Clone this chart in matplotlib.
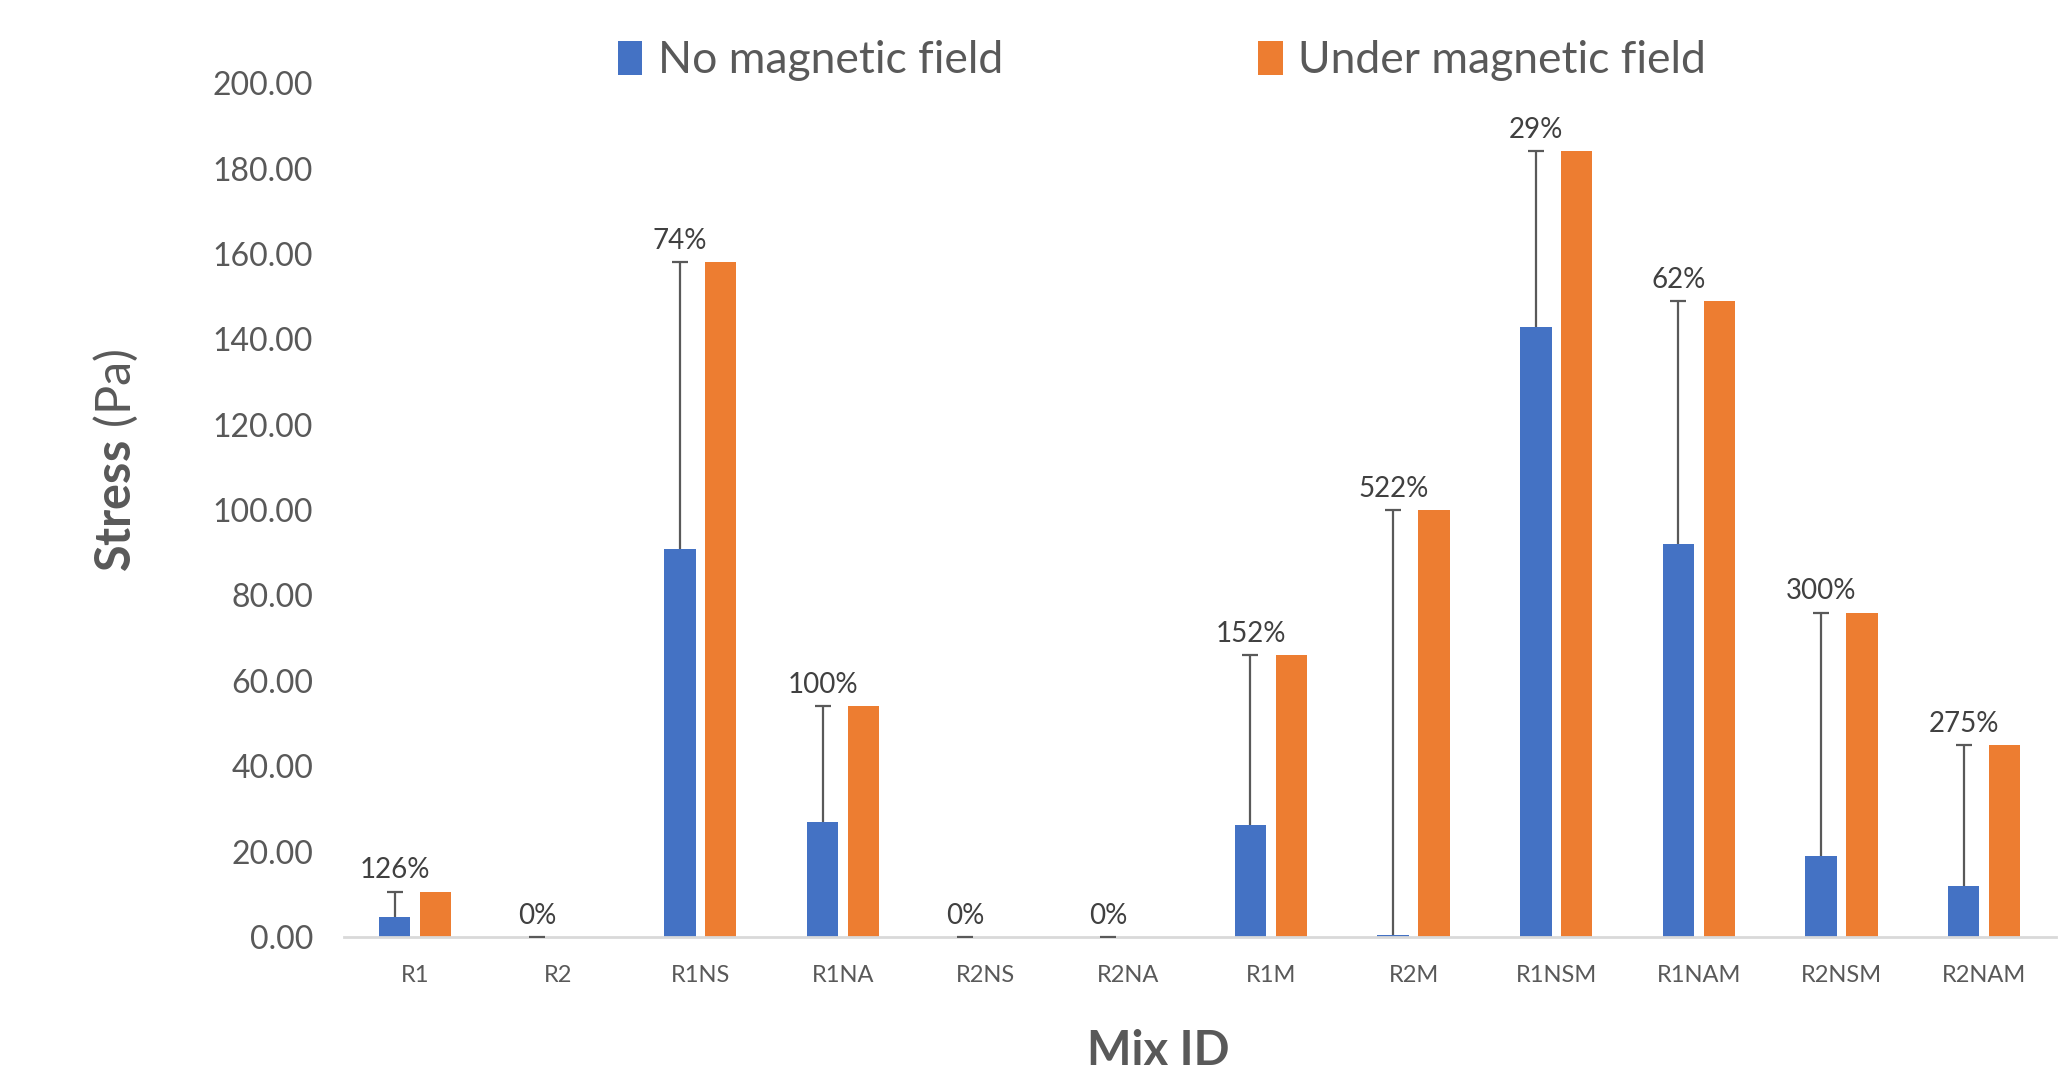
import numpy as np
import matplotlib.pyplot as plt

plt.rcParams['font.family'] = ['Lato', 'DejaVu Sans']
plt.rcParams['mathtext.fontset'] = 'custom'
plt.rcParams['mathtext.bf'] = 'Lato:bold'
plt.rcParams['mathtext.rm'] = 'Lato'

# Data
mix_ids = ['R1', 'R2', 'R1NS', 'R1NA', 'R2NS', 'R2NA',
           'R1M', 'R2M', 'R1NSM', 'R1NAM', 'R2NSM', 'R2NAM']
no_field = [4.7, 0.0, 91.0, 27.0, 0.0, 0.0, 26.2, 0.5, 143.0, 92.0, 19.0, 12.0]
under_field = [10.6, 0.0, 158.0, 54.0, 0.0, 0.0, 66.0, 100.0, 184.0, 149.0, 76.0, 45.0]
increase = ['126%', '0%', '74%', '100%', '0%', '0%',
            '152%', '522%', '29%', '62%', '300%', '275%']

blue = '#4472C4'
orange = '#ED7D31'
grey = '#595959'

x = np.arange(len(mix_ids))
width = 0.22
shift = 0.143

fig = plt.figure(figsize=(20.7, 10.8), dpi=100)
ax = fig.add_axes([0.166, 0.1324, 0.827, 0.7906])

ax.bar(x - shift, no_field, width, color=blue, label='No magnetic field')
ax.bar(x + shift, under_field, width, color=orange, label='Under magnetic field')

# Error bars from the blue bar up to the orange value, cap only on top
ax.vlines(x - shift, no_field, under_field, color=grey, lw=1.6, zorder=3)
ax.plot(x - shift, under_field, ls='none', marker='_', ms=12, mew=1.6,
        color=grey, zorder=3)

for xi, top, txt in zip(x, under_field, increase):
    ax.annotate(txt, (xi - shift, top), xytext=(0, 6), textcoords='offset points',
                ha='center', va='bottom', fontsize=20, color='#404040')

ax.set_xlim(-0.5, len(mix_ids) - 0.5)
ax.set_ylim(0, 200)
ax.set_yticks(np.arange(0, 201, 20))
ax.set_yticklabels([f'{v:.2f}' for v in np.arange(0, 201, 20)])
ax.set_xticks(x)
ax.set_xticklabels(mix_ids)

for s in ['top', 'right', 'left']:
    ax.spines[s].set_visible(False)
ax.spines['bottom'].set_color('#D9D9D9')
ax.spines['bottom'].set_linewidth(2)
ax.tick_params(axis='y', length=0, labelsize=23, labelcolor=grey, pad=22)
ax.tick_params(axis='x', length=0, labelsize=17, labelcolor=grey, pad=20)

ax.set_xlabel('Mix ID', fontsize=34, fontweight='bold', color=grey, va='center')
ax.xaxis.set_label_coords(0.476, -0.134)
ax.set_ylabel(r'$\mathbf{Stress}$ (Pa)', fontsize=35, color=grey, va='center')
ax.yaxis.set_label_coords(-0.133, 0.558)

ax.legend(loc='center', bbox_to_anchor=(0.478, 1.026), ncol=2, frameon=False,
          fontsize=32, labelcolor=grey, handlelength=0.55, handleheight=0.8,
          handletextpad=0.35, columnspacing=5.75)

fig.savefig('out.png', dpi=100)
